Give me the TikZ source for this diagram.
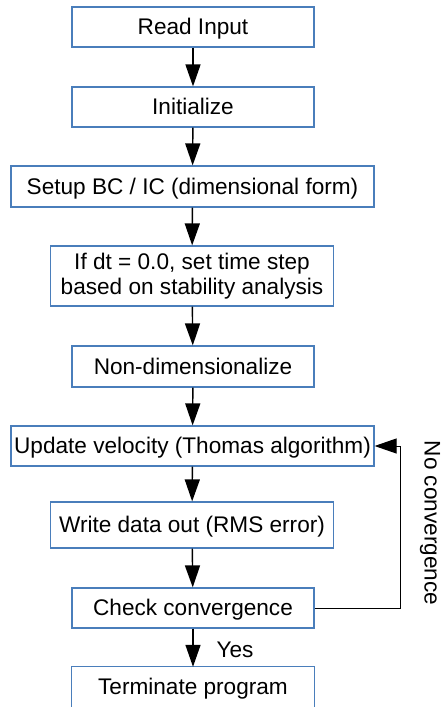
\documentclass[tikz,border=0pt]{standalone}
\usepackage{fontspec}
\setmainfont{Liberation Sans}
\usetikzlibrary{arrows.meta}
\definecolor{boxblue}{RGB}{74,126,187}
\begin{document}
\begin{tikzpicture}[x=1pt,y=-1pt,
  font=\fontsize{22.6}{24.5}\selectfont,
  basebox/.style={draw=boxblue, line width=1.2pt, inner sep=0pt},
  stepbox/.style={basebox, minimum height=40pt, text height=16pt, text depth=1pt},
  flow/.style={line width=1.4pt, -{Triangle[length=22pt,width=15pt]}},
  back/.style={line width=1pt, -{Triangle[length=22pt,width=15pt]}}]
\useasboundingbox (0,0) rectangle (442,707);

% process steps
\node[stepbox, minimum width=242pt] (read) at (193,27) {Read Input};
\node[stepbox, minimum width=242pt] (init) at (193,107) {Initialize};
\node[stepbox, minimum width=363pt, minimum height=41pt] (setup) at (192.5,186.5) {Setup BC / IC (dimensional form)};
\node[basebox, minimum width=283pt, minimum height=60pt, align=center] (dt) at (192,276)
  {If dt = 0.0, set time step\\based on stability analysis};
\node[stepbox, minimum width=242pt, minimum height=41pt] (nondim) at (193,366.5) {Non-dimensionalize};
\node[stepbox, minimum width=363pt] (update) at (192.5,446) {Update velocity (Thomas algorithm)};
\node[stepbox, minimum width=283pt, minimum height=46pt] (write) at (192,525) {Write data out (RMS error)};
\node[stepbox, minimum width=242pt] (check) at (193,608) {Check convergence};

% last step: its lower edge runs past the page
\node[inner sep=0pt, minimum width=242pt, minimum height=40pt, text height=16pt, text depth=1pt] (term) at (193,687) {Terminate program};
\draw[boxblue, line width=1.2pt] ([yshift=-6pt]term.south west) -- (term.north west)
  -- (term.north east) -- ([yshift=-6pt]term.south east);

% flow
\draw[flow] (read) -- (init);
\draw[flow] (init) -- (setup);
\draw[flow] (setup) -- (dt);
\draw[flow] (dt) -- (nondim);
\draw[flow] (nondim) -- (update);
\draw[flow] (update) -- (write);
\draw[flow] (write) -- (check);
\draw[flow] (check) -- (term.north);

% loop back when not converged
\draw[back] (check.east) -- ++(86,0) |- (update.east);

% labels
\node (yes) at (235,650) {Yes};
\node[rotate=-90] (noconv) at (430,523) {No convergence};
\end{tikzpicture}
\end{document}
